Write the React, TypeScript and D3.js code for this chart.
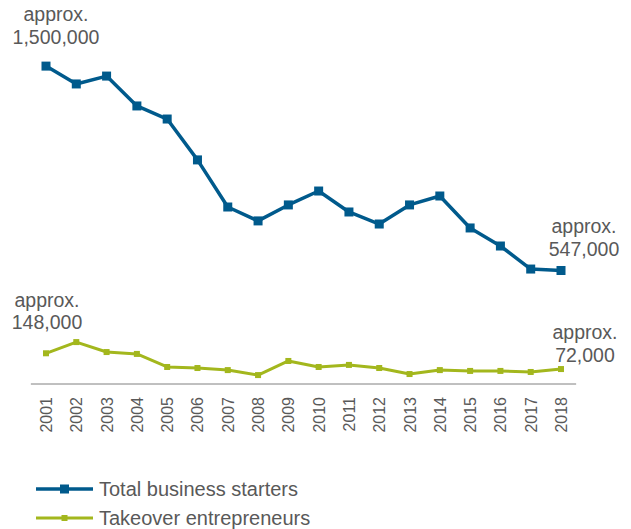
import React from "react";
import * as d3 from "d3";

const years = ["2001","2002","2003","2004","2005","2006","2007","2008","2009","2010","2011","2012","2013","2014","2015","2016","2017","2018"];
const totalStarters = [1532000,1446000,1484000,1340000,1277000,1080000,853000,786000,863000,930000,829000,771000,863000,906000,752000,665000,554000,547000];
const takeover = [148000,202000,154000,145000,82000,77000,67000,43000,111000,82000,92000,77000,48000,67000,63000,63000,58000,72000];
const seriesNames = ["Total business starters","Takeover entrepreneurs"];
const annotations = [
  { series: 0, index: 0, lines: ["approx.", "1,500,000"] },
  { series: 0, index: 17, lines: ["approx.", "547,000"] },
  { series: 1, index: 0, lines: ["approx.", "148,000"] },
  { series: 1, index: 17, lines: ["approx.", "72,000"] },
];

const BLUE = "#005a8c";
const GREEN = "#a3b71d";
const TEXT = "#595959";
const FONT = "'Liberation Sans', Arial, sans-serif";

export default function App() {
  const W = 631, H = 529;
  const x = d3.scalePoint<string>().domain(years).range([30.85, 576.15]).padding(0.5);
  const y = d3.scaleLinear().domain([0, 1600000]).range([384, 52]);
  const line = d3.line<number>().x((_, i) => x(years[i])!).y((d) => y(d));

  const series = [
    { values: totalStarters, color: BLUE, width: 3.5, marker: 9 },
    { values: takeover, color: GREEN, width: 3, marker: 6 },
  ];

  // annotation placement offsets (label layout)
  const annPos = [
    { dx: 56, b1: 21, b2: 44 },
    { dx: 584, b1: 233, b2: 256 },
    { dx: 47, b1: 307, b2: 329 },
    { dx: 585, b1: 339, b2: 362 },
  ];

  return (
    <svg width={W} height={H} style={{ position: "absolute", left: 0, top: 0 }} fontFamily={FONT}>
      <rect width={W} height={H} fill="#fff" />
      {/* axis line */}
      <line x1={30.85} x2={576.15} y1={y(0)} y2={y(0)} stroke="#808080" strokeWidth={1} />
      {years.map((yr) => (
        <text
          key={yr}
          transform={`translate(${x(yr)! + 0.5},${y(0) + 13}) rotate(-90)`}
          textAnchor="end"
          dominantBaseline="central"
          fontSize={16}
          fill={TEXT}
        >
          {yr}
        </text>
      ))}
      {series.map((s, si) => (
        <g key={si}>
          <path d={line(s.values)!} fill="none" stroke={s.color} strokeWidth={s.width} strokeLinejoin="round" />
          {s.values.map((v, i) => (
            <rect
              key={i}
              x={x(years[i])! - s.marker / 2}
              y={y(v) - s.marker / 2}
              width={s.marker}
              height={s.marker}
              fill={s.color}
            />
          ))}
        </g>
      ))}
      {annotations.map((a, ai) => (
        <g key={ai} fill={TEXT} fontSize={19.5} textAnchor="middle">
          <text x={annPos[ai].dx} y={annPos[ai].b1}>{a.lines[0]}</text>
          <text x={annPos[ai].dx} y={annPos[ai].b2}>{a.lines[1]}</text>
        </g>
      ))}
      {/* legend */}
      {series.map((s, si) => {
        const ly = 489 + si * 29;
        return (
          <g key={si}>
            <line x1={36} x2={93} y1={ly} y2={ly} stroke={s.color} strokeWidth={s.width} />
            <rect x={64.5 - s.marker / 2} y={ly - s.marker / 2} width={s.marker} height={s.marker} fill={s.color} />
            <text x={99} y={ly + 7} fontSize={20} fill={TEXT}>{seriesNames[si]}</text>
          </g>
        );
      })}
    </svg>
  );
}
